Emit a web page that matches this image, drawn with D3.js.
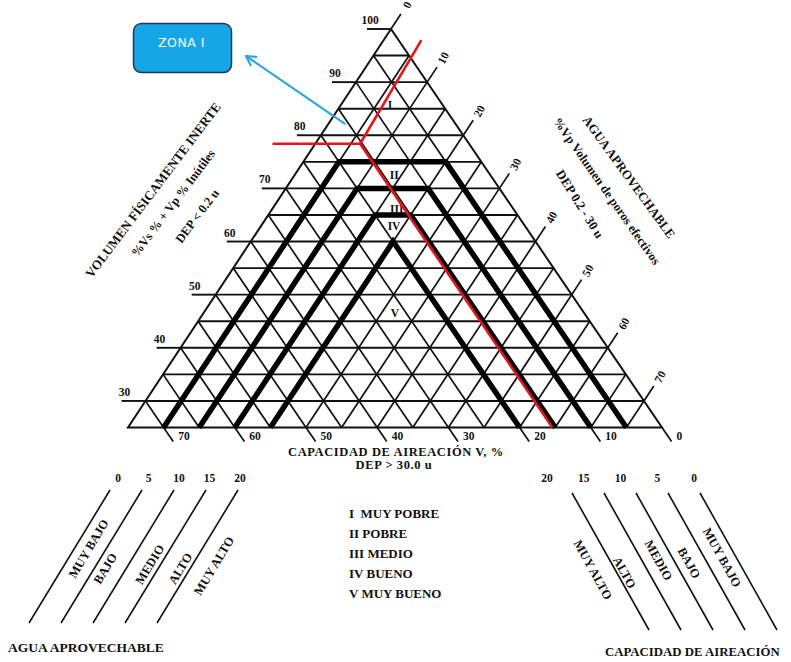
<!DOCTYPE html>
<html>
<head>
<meta charset="utf-8">
<script src="https://cdn.jsdelivr.net/npm/d3@7"></script>
<style>
  html, body { margin: 0; padding: 0; background: #fff; }
  svg { display: block; }
  text { font-family: "Liberation Serif", "DejaVu Serif", serif; fill: #111; }
</style>
</head>
<body>
<svg id="chart" width="791" height="662"></svg>
<script>
// ---- data -------------------------------------------------------------
// grid is drawn every 5 % for the three components
const gridSteps = d3.range(5, 75, 5);            // 5 … 70
const inertTicks = [30, 40, 50, 60, 70, 80, 90, 100];
const aguaTicks = [0, 10, 20, 30, 40, 50, 60, 70];
const aireTicks = [70, 60, 50, 40, 30, 20, 10, 0];

// zone boundaries: water / air limit of each band and the inert level where it closes
const zoneLimits = [5, 10, 15, 20];
const zoneTops = [75, 70, 65, 60];

// zone numerals and where they sit (inert %, agua %)
const zoneNames = ["I", "II", "III", "IV", "V"];
const zoneDescriptions = ["MUY POBRE", "POBRE", "MEDIO", "BUENO", "MUY BUENO"];
const zoneLabelInert = [85.7, 72.5, 66.1, 62.9, 46.5];
const zoneLabelAgua = [6.9, 14.0, 17.5, 18.7, 26.9];

// red limit lines of zone I (inert %, agua %)
const redDiagonal = [[97.9, 5.3], [78.4, 6.3], [25, 59.6]];
const redHorizontal = [[78.4, -6.0], [78.4, 6.3]];
// point of zone I the callout points at (inert %, agua %)
const calloutTarget = [82.1, 2.4];

// class scales shown under the diagram
const aguaClassValues = [0, 5, 10, 15, 20];
const aguaClassNames = ["MUY BAJO", "BAJO", "MEDIO", "ALTO", "MUY ALTO"];
const aireClassValues = [20, 15, 10, 5, 0];
const aireClassNames = ["MUY ALTO", "ALTO", "MEDIO", "BAJO", "MUY BAJO"];

// ---- layout -----------------------------------------------------------
const svg = d3.select("#chart");
const apexX = 391;
const yScale = d3.scaleLinear().domain([100, 25]).range([29, 427.5]);
const wShift = d3.scaleLinear().domain([0, 75]).range([0, 271]);
const cShift = d3.scaleLinear().domain([0, 75]).range([0, -263]);

// ternary (inert, agua) -> screen
function proj(a, w) {
  const c = 100 - a - w;
  return [apexX + wShift(w) + cShift(c), yScale(a)];
}
const unit = (dx, dy) => { const l = Math.hypot(dx, dy); return [dx / l, dy / l]; };
const pL = proj(25, 0), pR = proj(25, 75), pA = proj(100, 0);
const upRight = unit(pA[0] - pL[0], pA[1] - pL[1]);     // direction of agua lines
const downRight = unit(pR[0] - pA[0], pR[1] - pA[1]);   // direction of aire lines

const line = d3.line();
const gGrid = svg.append("g").attr("stroke", "#111").attr("fill", "none");

// inert (horizontal) lines
gridSteps.map(s => 25 + s).filter(a => a < 100).forEach(a => {
  gGrid.append("path").attr("stroke-width", 1.9)
    .attr("d", line([proj(a, 0), proj(a, 100 - a)]));
});
// agua lines (parallel to the left edge)
gridSteps.forEach(w => {
  gGrid.append("path").attr("stroke-width", 1.7)
    .attr("d", line([proj(25, w), proj(100 - w, w)]));
});
// aire lines (parallel to the right edge)
gridSteps.forEach(c => {
  gGrid.append("path").attr("stroke-width", 1.7)
    .attr("d", line([proj(25, 75 - c), proj(100 - c, 0)]));
});
// outline
gGrid.append("path").attr("stroke-width", 2)
  .attr("d", line([pA, pL, pR]) + "Z");

// ---- axes -------------------------------------------------------------
const gAxes = svg.append("g");
const tickSize = 11.5;

// inert axis: ticks to the left of the left edge
inertTicks.forEach(a => {
  const p = proj(a, 0);
  const x0 = p[0] - 24;
  gAxes.append("path").attr("stroke", "#111").attr("stroke-width", 1.9)
    .attr("d", line([[x0, p[1]], p]));
  gAxes.append("text").attr("x", x0 + 3).attr("y", p[1] - 5)
    .attr("text-anchor", "middle").attr("font-size", tickSize).attr("font-weight", "bold")
    .text(a);
});
// agua axis: ticks beyond the right edge
aguaTicks.forEach(w => {
  const p = proj(100 - w, w);
  const e = [p[0] + upRight[0] * 18, p[1] + upRight[1] * 18];
  gAxes.append("path").attr("stroke", "#111").attr("stroke-width", 1.7)
    .attr("d", line([p, e]));
  const lx = p[0] + upRight[0] * 29, ly = p[1] + upRight[1] * 29;
  gAxes.append("text")
    .attr("transform", `translate(${lx},${ly}) rotate(-62)`)
    .attr("text-anchor", "middle").attr("dy", "0.35em")
    .attr("font-size", tickSize).attr("font-weight", "bold")
    .text(w);
});
// aire axis: ticks below the bottom edge
aireTicks.forEach(c => {
  const p = proj(25, 75 - c);
  const e = [p[0] + downRight[0] * 17, p[1] + downRight[1] * 17];
  gAxes.append("path").attr("stroke", "#111").attr("stroke-width", 1.7)
    .attr("d", line([p, e]));
  gAxes.append("text").attr("x", e[0] + 5).attr("y", p[1] + 12)
    .attr("font-size", tickSize).attr("font-weight", "bold")
    .text(c);
});

// ---- zones ------------------------------------------------------------
const gZones = svg.append("g").attr("stroke", "#000").attr("fill", "none")
  .attr("stroke-width", 5.5).attr("stroke-linejoin", "miter");
zoneLimits.forEach((L, i) => {
  const T = zoneTops[i];
  gZones.append("path").attr("d", line([
    proj(25, L), proj(T, L), proj(T, 100 - T - L), proj(25, 75 - L)
  ]));
});
zoneNames.forEach((n, i) => {
  const p = proj(zoneLabelInert[i], zoneLabelAgua[i]);
  svg.append("text").attr("x", p[0]).attr("y", p[1]).attr("dy", "0.35em")
    .attr("text-anchor", "middle").attr("font-size", 11.5).attr("font-weight", "bold")
    .text(n);
});

// ---- red limits of zone I ---------------------------------------------
const gRed = svg.append("g").attr("stroke", "#e3161c").attr("fill", "none")
  .attr("stroke-width", 2.6);
gRed.append("path").attr("d", line(redDiagonal.map(d => proj(d[0], d[1]))));
gRed.append("path").attr("d", line(redHorizontal.map(d => proj(d[0], d[1]))));

// ---- callout ----------------------------------------------------------
const boxX = 133.5, boxY = 23.5, boxW = 98, boxH = 49;
const tgt = proj(calloutTarget[0], calloutTarget[1]);
const tip = [246, 56];
const dir = unit(tgt[0] - tip[0], tgt[1] - tip[1]);
const nrm = [-dir[1], dir[0]];
const head = 9, half = 5;
svg.append("path").attr("d", line([tip, tgt]))
  .attr("stroke", "#2aa8de").attr("stroke-width", 2.2).attr("fill", "none");
svg.append("path").attr("d", line([
    [tip[0] + dir[0] * head + nrm[0] * half, tip[1] + dir[1] * head + nrm[1] * half],
    tip,
    [tip[0] + dir[0] * head - nrm[0] * half, tip[1] + dir[1] * head - nrm[1] * half]
  ]))
  .attr("stroke", "#2aa8de").attr("stroke-width", 2.2).attr("fill", "none")
  .attr("stroke-linecap", "round").attr("stroke-linejoin", "round");
svg.append("rect").attr("x", boxX).attr("y", boxY).attr("width", boxW).attr("height", boxH)
  .attr("rx", 8).attr("fill", "#16a6e8").attr("stroke", "#1f3550").attr("stroke-width", 1.5);
svg.append("text").attr("x", boxX + boxW / 2 - 1).attr("y", boxY + 23)
  .attr("text-anchor", "middle").attr("font-size", 12.5)
  .style("font-family", "'DejaVu Sans', sans-serif").style("fill", "#fff")
  .attr("letter-spacing", 0.5)
  .text("ZONA I");

// ---- axis titles --------------------------------------------------------
function rotText(x, y, angle, str, size, weight) {
  svg.append("text").attr("transform", `translate(${x},${y}) rotate(${angle})`)
    .attr("text-anchor", "middle").attr("dy", "0.35em")
    .attr("font-size", size).attr("font-weight", weight || "bold")
    .text(str);
}
rotText(153, 190, -53, "VOLUMEN FÍSICAMENTE INERTE", 13);
rotText(173, 203, -53, "%Vs % + Vp % Inútiles", 12.5);
rotText(197, 216, -53, "DEP < 0.2 u", 12.5);

rotText(629, 177, 54, "AGUA APROVECHABLE", 12.8);
rotText(607, 191, 55, "%Vp  Volumen de poros efectivos", 12.5);
rotText(580, 204, 58, "DEP 0.2 - 30 u", 12.8);

svg.append("text").attr("x", 396).attr("y", 456).attr("text-anchor", "middle")
  .attr("font-size", 12.5).attr("letter-spacing", 0.6).attr("font-weight", "bold")
  .text("CAPACIDAD DE AIREACIÓN V, %");
svg.append("text").attr("x", 394).attr("y", 469).attr("text-anchor", "middle")
  .attr("font-size", 12.5).attr("letter-spacing", 0.6).attr("font-weight", "bold")
  .text("DEP > 30.0 u");

// ---- zone key ------------------------------------------------------------
zoneNames.forEach((n, i) => {
  svg.append("text").attr("x", 349).attr("y", 518 + i * 20)
    .attr("font-size", 13).attr("font-weight", "bold")
    .text(n + (i === 0 ? "\u00a0 " : " ") + zoneDescriptions[i]);
});

// ---- class scales ----------------------------------------------------------
// label placement along each class line: fraction down the line and side offset
const aguaLabelAlong = [0.44, 0.59, 0.56, 0.59, 0.57];
const aguaLabelSide = [14, 11, 21, 22, 22];
const aireLabelAlong = [0.56, 0.58, 0.49, 0.51, 0.47];
const aireLabelSide = [22, 24, 15, 18, 14];

const aguaLineX = d3.scaleLinear().domain([0, 20]).range([110, 238]);
const aguaNumX = d3.scaleLinear().domain([0, 20]).range([118, 240]);
const gClass = svg.append("g");
aguaClassValues.forEach((v, i) => {
  const x = aguaLineX(v);
  gClass.append("path").attr("d", line([[x, 490], [x - 81, 623]]))
    .attr("stroke", "#111").attr("stroke-width", 1.6);
  gClass.append("text").attr("x", aguaNumX(v)).attr("y", 482).attr("text-anchor", "middle")
    .attr("font-size", 11.5).attr("font-weight", "bold").text(v);
  const t = aguaLabelAlong[i];
  rotText(x - 81 * t + aguaLabelSide[i], 490 + 133 * t, -59, aguaClassNames[i], 12.5);
});
svg.append("text").attr("x", 8).attr("y", 652).attr("font-size", 13.5).attr("font-weight", "bold")
  .text("AGUA APROVECHABLE");

const aireLineX = d3.scaleLinear().domain([20, 0]).range([572, 700]);
const aireNumX = d3.scaleLinear().domain([20, 0]).range([547, 694]);
aireClassValues.forEach((v, i) => {
  const x = aireLineX(v);
  gClass.append("path").attr("d", line([[x, 493], [x + 77, 630]]))
    .attr("stroke", "#111").attr("stroke-width", 1.6);
  gClass.append("text").attr("x", aireNumX(v)).attr("y", 482).attr("text-anchor", "middle")
    .attr("font-size", 11.5).attr("font-weight", "bold").text(v);
  const t = aireLabelAlong[i];
  rotText(x + 77 * t - aireLabelSide[i], 493 + 137 * t, 61, aireClassNames[i], 12.5);
});
svg.append("text").attr("x", 605).attr("y", 656).attr("font-size", 12.8).attr("font-weight", "bold")
  .text("CAPACIDAD DE AIREACIÓN");
</script>
</body>
</html>
